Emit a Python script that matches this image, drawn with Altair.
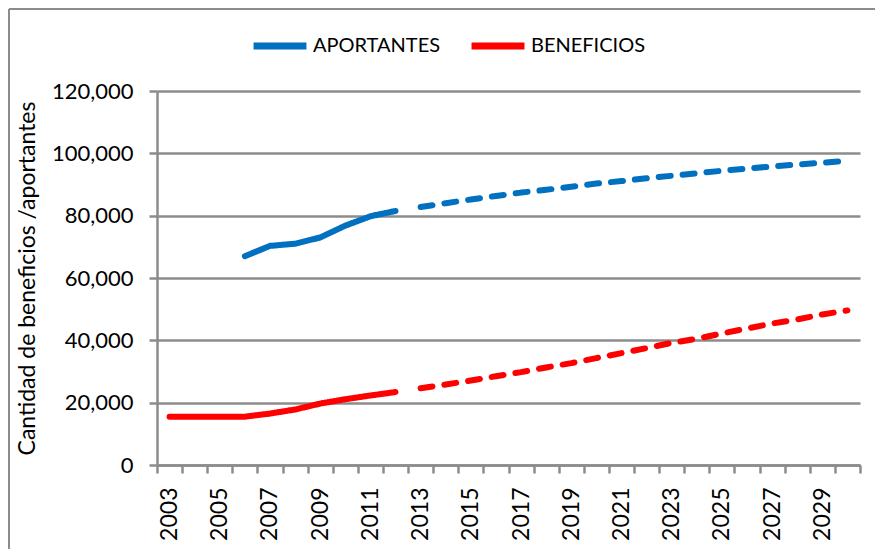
import altair as alt
import pandas as pd

# ---- data ----
years_hist = [2003, 2004, 2005, 2006, 2007, 2008, 2009, 2010, 2011, 2012]
aportantes_hist = [None, None, None, 67000, 70300, 71000, 73000, 76800, 79800, 81500]
beneficios_hist = [15500, 15500, 15500, 15500, 16500, 17800, 19700, 21100, 22300, 23400]

years_proj = [2013, 2014, 2015, 2016, 2017, 2018, 2019, 2020, 2021,
              2022, 2023, 2024, 2025, 2026, 2027, 2028, 2029, 2030]
aportantes_proj = [82800, 84000, 85200, 86300, 87400, 88300, 89300, 90300, 91100,
                   92000, 92800, 93600, 94400, 95100, 95800, 96400, 97000, 97600]
beneficios_proj = [24600, 25800, 27100, 28500, 29800, 31300, 32700, 34300, 35900,
                   37500, 39200, 40500, 42200, 43800, 45400, 46700, 48300, 49600]

series_names = ["APORTANTES", "BENEFICIOS"]
series_colors = ["#0070C0", "#FF0000"]
y_ticks = [0, 20000, 40000, 60000, 80000, 100000, 120000]

rows = []
for yrs, a_vals, b_vals, tipo in [
    (years_hist, aportantes_hist, beneficios_hist, "hist"),
    (years_proj, aportantes_proj, beneficios_proj, "proj"),
]:
    for y, a, b in zip(yrs, a_vals, b_vals):
        if a is not None:
            rows.append({"year": y, "serie": "APORTANTES", "valor": a, "tipo": tipo})
        if b is not None:
            rows.append({"year": y, "serie": "BENEFICIOS", "valor": b, "tipo": tipo})
df = pd.DataFrame(rows)

FONT = "Lato"
GRAY = "#8c8c8c"

lines = alt.Chart(df).mark_line(strokeWidth=6, strokeCap="round", strokeJoin="round").encode(
    x=alt.X(
        "year:O",
        bandPosition=0.5,
        scale=alt.Scale(type="band", paddingInner=0, paddingOuter=0),
        axis=alt.Axis(
            title=None,
            grid=False,
            tickBand="extent",
            labelAngle=-90,
            labelExpr="datum.value % 2 == 1 ? datum.label : ''",
            labelFont=FONT,
            labelFontSize=23,
            labelColor="#000000",
            labelPadding=14,
            tickSize=8,
            tickWidth=2.5,
            tickColor=GRAY,
            domainColor=GRAY,
            domainWidth=2.5,
        ),
    ),
    y=alt.Y(
        "valor:Q",
        scale=alt.Scale(domain=[0, 120000], nice=False),
        axis=alt.Axis(
            title="Cantidad de beneficios /aportantes",
            values=y_ticks,
            format=",.0f",
            grid=True,
            gridColor=GRAY,
            gridWidth=2.5,
            domainColor=GRAY,
            domainWidth=2.5,
            tickColor=GRAY,
            tickWidth=2.5,
            tickSize=8,
            labelFont=FONT,
            labelFontSize=22,
            labelColor="#000000",
            labelPadding=16,
            titleFont=FONT,
            titleFontSize=23,
            titleFontWeight="normal",
            titleColor="#000000",
            titleX=-130,
            titleY=187,
            titleAlign="center",
            titleBaseline="middle",
            titleAngle=-90,
        ),
    ),
    color=alt.Color(
        "serie:N",
        scale=alt.Scale(domain=series_names, range=series_colors),
        legend=alt.Legend(
            title=None,
            orient="none",
            direction="horizontal",
            legendX=93,
            legendY=-75,
            symbolType="stroke",
            symbolSize=2800,
            symbolStrokeWidth=7,
            labelFont=FONT,
            labelFontSize=20,
            labelColor="#000000",
            labelOffset=3,
            columnPadding=16,
            padding=0,
        ),
    ),
    strokeDash=alt.StrokeDash(
        "tipo:N",
        scale=alt.Scale(domain=["hist", "proj"], range=[[1, 0], [12, 12]]),
        legend=None,
    ),
    detail="tipo:N",
)

frame_left = alt.Chart(alt.Data(values=[{}])).mark_rule(color=GRAY, strokeWidth=2).encode(
    x=alt.value(-148), y=alt.value(-82), y2=alt.value(458)
)
frame_top = alt.Chart(alt.Data(values=[{}])).mark_rule(color=GRAY, strokeWidth=2).encode(
    x=alt.value(-148), x2=alt.value(718), y=alt.value(-82)
)

chart = alt.layer(lines, frame_left, frame_top).properties(
    width=703,
    height=374,
    autosize=alt.AutoSizeParams(type="none"),
    padding={"left": 149, "top": 83, "right": 15, "bottom": 84},
).configure_view(stroke=None)

chart.save("out.html", embed_options={"renderer": "svg", "actions": False})
